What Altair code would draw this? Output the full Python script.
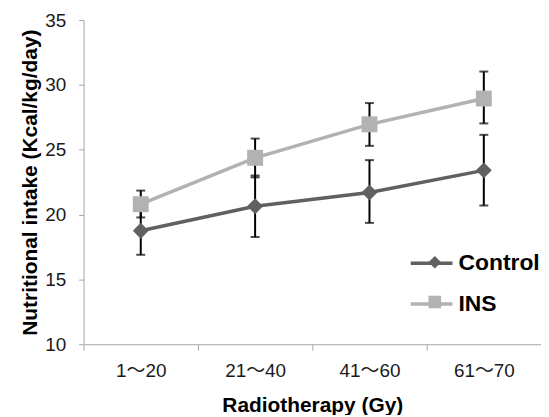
import json
import altair as alt
import pandas as pd

categories = ["1～20", "21～40", "41～60", "61～70"]
series_names = ["Control", "INS"]
control_mean = [18.75, 20.64, 21.70, 23.41]
control_low = [16.90, 18.27, 19.36, 20.70]
control_high = [20.60, 23.01, 24.20, 26.15]
ins_mean = [20.80, 24.38, 26.96, 28.95]
ins_low = [19.78, 22.87, 25.30, 27.03]
ins_high = [21.85, 25.86, 28.60, 31.03]
y_ticks = [10, 15, 20, 25, 30, 35]
colors = ["#606060", "#b2b2b2"]

rows = []
for name, m, lo, hi in [("Control", control_mean, control_low, control_high),
                        ("INS", ins_mean, ins_low, ins_high)]:
    for i, c in enumerate(categories):
        rows.append({"category": c, "idx": i, "series": name, "lseries": name,
                     "mean": m[i], "low": lo[i], "high": hi[i]})
df = pd.DataFrame(rows)

FONT = "Liberation Sans, Noto Sans CJK JP"
label_list = json.dumps(categories + [""], ensure_ascii=False)

x_enc = alt.X(
    "idx:Q",
    scale=alt.Scale(domain=[-0.5, len(categories) - 0.5], nice=False, zero=False),
    axis=alt.Axis(
        title="Radiotherapy (Gy)",
        values=[i - 0.5 for i in range(len(categories) + 1)],
        labelExpr=f"{label_list}[round(datum.value + 0.5)]",
        labelOffset=57.5,
        labelFlush=False,
        labelOverlap=False,
        labelPadding=11,
        tickSize=6,
        titlePadding=15,
        grid=False,
    ),
)
y_enc = alt.Y(
    "mean:Q",
    scale=alt.Scale(domain=[10, 35], nice=False, zero=False),
    axis=alt.Axis(
        title="Nutritional intake (Kcal/kg/day)",
        values=y_ticks,
        tickSize=5,
        labelPadding=13,
        titlePadding=4,
        grid=False,
    ),
)

base = alt.Chart(df)

LINE_PATH = "M-2,0L2,0"

lines = base.mark_line(strokeWidth=3.5).encode(
    x=x_enc,
    y=y_enc,
    stroke=alt.Stroke(
        "lseries:N",
        scale=alt.Scale(range=colors),
        legend=alt.Legend(
            title=None, orient="none", legendX=337.5, legendY=232,
            symbolType=LINE_PATH, symbolSize=441, symbolStrokeWidth=3.5,
            labelFontSize=23, labelFont=FONT, labelFontWeight="bold",
            labelColor="#000000", labelOffset=14.5, rowPadding=16, padding=0,
        ),
    ),
    detail="series:N",
)

err_rule = base.mark_rule(color="#000000", strokeWidth=2).encode(
    x="idx:Q", y="low:Q", y2="high:Q"
)
cap_low = base.mark_tick(color="#000000", orient="horizontal", size=9, thickness=2).encode(
    x="idx:Q", y="low:Q"
)
cap_high = base.mark_tick(color="#000000", orient="horizontal", size=9, thickness=2).encode(
    x="idx:Q", y="high:Q"
)

legB = alt.Legend(
    title=None, orient="none", legendX=341.7, legendY=232,
    symbolSize=160, symbolStrokeWidth=0,
    labelFontSize=23, labelFont=FONT, labelFontWeight="bold",
    labelExpr="''", labelColor="transparent", labelOffset=4, rowPadding=16, padding=0,
)
points = base.mark_point(filled=True, size=256, opacity=1, strokeWidth=0).encode(
    x="idx:Q",
    y="mean:Q",
    fill=alt.Fill("series:N", scale=alt.Scale(range=colors), legend=legB),
    shape=alt.Shape("series:N", scale=alt.Scale(range=["diamond", "square"]), legend=legB),
)

chart = alt.layer(lines, err_rule, cap_low, cap_high, points).properties(
    width=460,
    height=326,
    autosize=alt.AutoSizeParams(type="none"),
    padding={"left": 76, "top": 11, "right": 0, "bottom": 70},
).configure_view(stroke=None).configure_axis(
    domainColor="#a6a6a6",
    tickColor="#a6a6a6",
    labelFont=FONT,
    labelFontSize=19,
    labelColor="#1a1a1a",
    titleFont=FONT,
    titleFontSize=21,
    titleFontWeight="bold",
    titleColor="#000000",
)

chart.save("out.html", embed_options={"renderer": "svg", "actions": False})
